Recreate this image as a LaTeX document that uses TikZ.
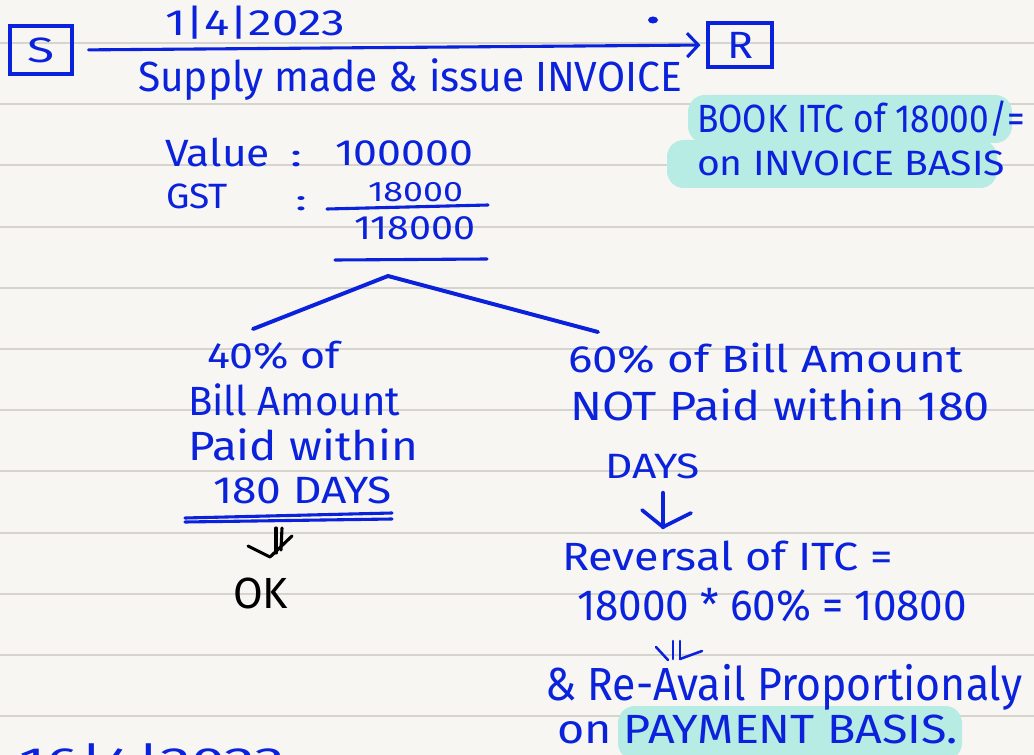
\documentclass[tikz,border=0pt]{standalone}
\usepackage{fontspec}
\usepackage{graphicx}
\newfontfamily\hand{Fira Sans}
\usetikzlibrary{arrows.meta}

\definecolor{paper}{HTML}{F8F6F2}
\definecolor{ruling}{HTML}{D7D4CE}
\definecolor{ink}{HTML}{0A22DC}
\definecolor{marker}{HTML}{B6ECE3}

% one drawing unit
\newlength\pxu \setlength\pxu{0.025cm}
% handwritten text: #1 = size, #2 = width in drawing units, #3 = text
\newcommand\hw[3]{\resizebox{#2\pxu}{\height}{\hand\fontsize{#1}{#1}\selectfont #3}}

\tikzset{
  pen/.style={draw=ink, line width=2.2pt, line cap=round, line join=round},
  blackpen/.style={draw=black, line width=2.2pt, line cap=round, line join=round},
  txt/.style={inner sep=0pt, outer sep=0pt, anchor=base west, text=ink},
  party/.style={draw=ink, line width=2.2pt, inner sep=0pt, text=ink,
                minimum width=62\pxu, minimum height=48\pxu},
  hl/.style={fill=marker, rounded corners=12pt},
}

\begin{document}
\begin{tikzpicture}[x=0.025cm, y=-0.025cm]
  \useasboundingbox (0,0) rectangle (1034,755);
  \fill[paper] (0,0) rectangle (1034,755);

  % ruled paper
  \foreach \k in {0,...,11}
    \draw[ruling, line width=1.3pt] (0,{43+61.2*\k}) -- (1034,{43+61.2*\k});

  % marker highlights
  \fill[hl] (688,95) rectangle (1012,143);
  \fill[hl] (667,140) rectangle (997,188);
  \fill[hl] (618,706) rectangle (962,760);

  % supplier and recipient
  \node[party] (S) at (41,50) {\hw{25}{27}{S}};
  \node[party, minimum width=64\pxu, minimum height=44\pxu] (R) at (740,45) {\hw{27}{26}{R}};
  \draw[pen, -{Straight Barb[length=8pt, width=17pt]}, shorten <=15\pxu, shorten >=6\pxu]
    (S.east) -- (R.west);
  \fill[ink] (653,20) ellipse (5 and 3.5);

  \node[txt] (date) at (165,36) {\hw{26}{180}{1|4|2023}};
  \node[txt] (supply) at (138,92) {\hw{30}{544}{Supply made \& issue INVOICE}};

  % booking note
  \node[txt] (book) at (697,133) {\hw{28}{328}{BOOK ITC of 18000/=}};
  \node[txt] (basis) at (697,176) {\hw{25}{308}{on INVOICE BASIS}};

  % invoice value
  \node[txt] (vlab) at (165,167) {\hw{27}{105}{Value}};
  \node[txt] (vcol) at (290,167) {\hw{22}{12}{:}};
  \node[txt] (vnum) at (335,166) {\hw{26}{138}{100000}};
  \node[txt] (glab) at (166,209) {\hw{25}{62}{GST}};
  \node[txt] (gcol) at (295,210) {\hw{20}{12}{:}};
  \node[txt] (gnum) at (368,202) {\hw{20}{95}{18000}};
  \draw[pen] (327,209) -- (488,205);
  \node[txt] (tot) at (354,240) {\hw{24}{121}{118000}};
  \draw[pen] (335,260) -- (487,259);

  % branching
  \coordinate (apex) at (388,276);
  \coordinate (lend) at (253,329);
  \coordinate (rend) at (598,332);
  \draw[pen, line width=2.8pt] (lend) -- (apex) -- (rend);

  % left branch
  \node[txt] (l1) at (207,368) {\hw{26}{133}{40\% of}};
  \node[txt] (l2) at (188,415) {\hw{29}{212}{Bill Amount}};
  \node[txt] (l3) at (188,460) {\hw{29}{230}{Paid within}};
  \node[txt] (l4) at (213,503) {\hw{27}{179}{180 DAYS}};
  \draw[pen] (185,518) -- (392,513);
  \draw[pen] (185,522) -- (392,519);
  \node[txt, text=black] (ok) at (233,608) {\hw{31}{55}{OK}};
  \coordinate (lTop) at (276,528);
  \coordinate (lBot) at (270,557);
  \draw[blackpen] (lTop) -- ++(0,25);
  \draw[blackpen] (lTop) ++(6,0) -- ++(-1,22);
  \draw[blackpen] (248,546) -- (lBot) -- (292,536);

  % right branch
  \node[txt] (r1) at (568,372) {\hw{27}{395}{60\% of Bill Amount}};
  \node[txt] (r2) at (570,420) {\hw{29}{420}{NOT Paid within 180}};
  \node[txt] (r3) at (605,478) {\hw{25}{95}{DAYS}};
  \coordinate (rTop) at (663,493);
  \coordinate (rBot) at (663,527);
  \draw[pen, line width=3.2pt] (rTop) -- (rBot);
  \draw[pen, line width=2.6pt] (642,510) -- (rBot) -- (691,513);

  \node[txt] (rev) at (562,570) {\hw{28}{331}{Reversal of ITC =}};
  \node[txt] (calc) at (577,620) {\hw{31}{390}{18000 * 60\% = 10800}};
  \coordinate (sTop) at (673,641);
  \coordinate (sBot) at (668,660);
  \draw[pen, line width=1.8pt] (sTop) -- ++(0,18);
  \draw[pen, line width=1.8pt] (sTop) ++(7,0) -- ++(0,18);
  \draw[pen, line width=1.8pt] (656,647) -- (sBot);
  \draw[pen, line width=1.8pt] (680,659) -- (702,651);

  \node[txt] (reav) at (545,700) {\hw{33}{477}{\& Re-Avail Proportionaly}};
  \node[txt] (pay) at (557,743) {\hw{29}{401}{on PAYMENT BASIS.}};

  % next entry, running off the page
  \node[txt] (next) at (20,775) {\hw{28}{265}{16|4|2023}};
\end{tikzpicture}
\end{document}
